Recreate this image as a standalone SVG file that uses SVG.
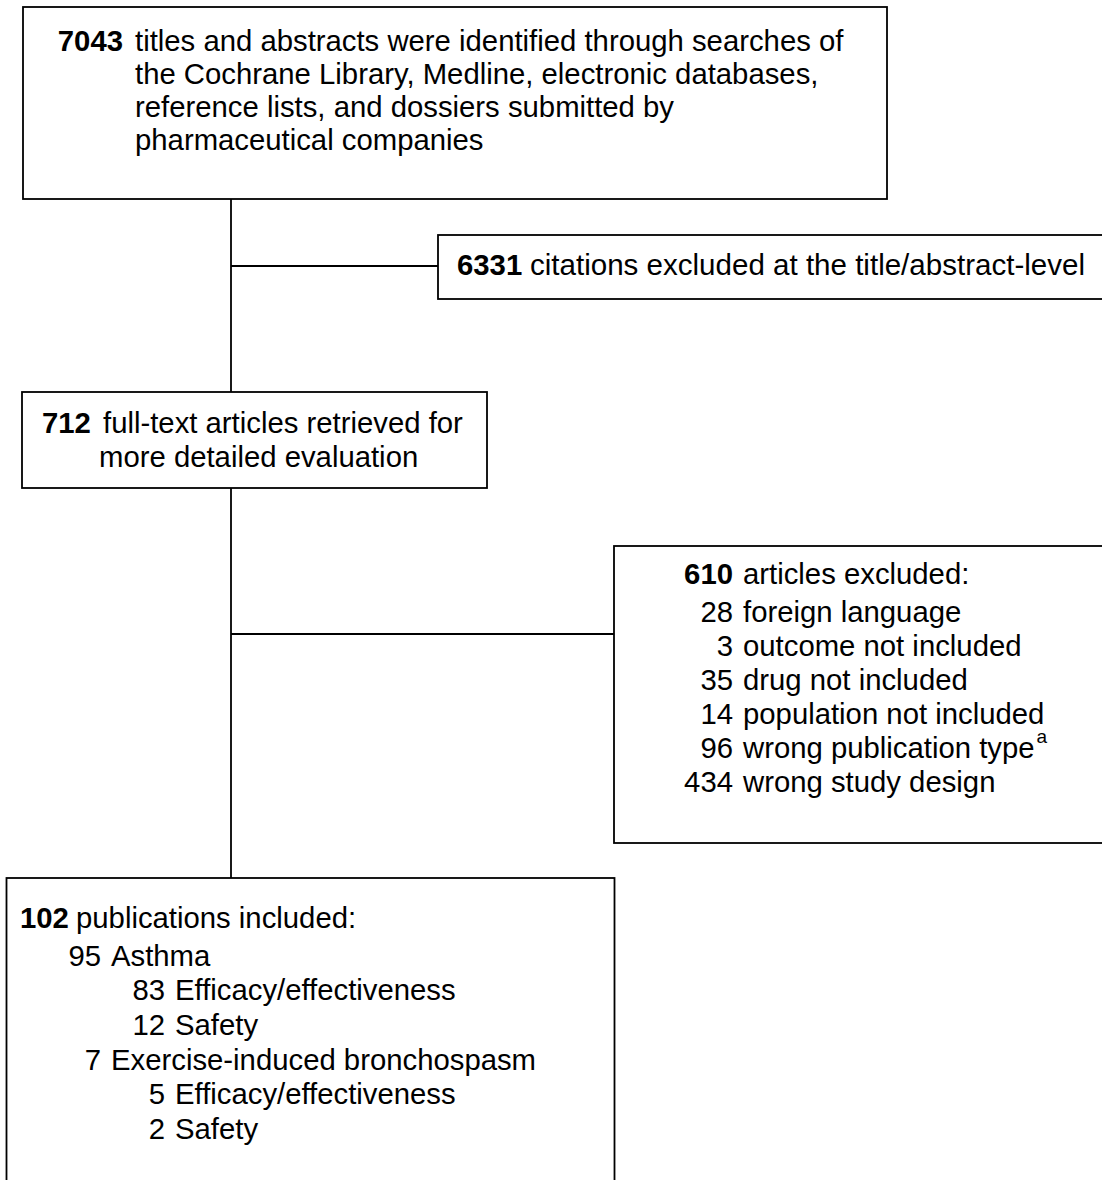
<svg xmlns="http://www.w3.org/2000/svg" width="1102" height="1180" viewBox="0 0 1102 1180">
<style>
.box{fill:#fff;stroke:#000;stroke-width:1.8}
.ln{stroke:#000;stroke-width:1.8;fill:none}
text{font-family:"Liberation Sans",Arial,sans-serif;font-size:29.3px;fill:#000}
.b{font-weight:bold}
.e{text-anchor:end}
.sup{font-size:19px}
</style>
<rect width="1102" height="1180" fill="#fff"/>
<g id="connectors">
<line class="ln" x1="231" y1="199" x2="231" y2="392"/>
<line class="ln" x1="231" y1="266" x2="438" y2="266"/>
<line class="ln" x1="231" y1="488" x2="231" y2="878"/>
<line class="ln" x1="231" y1="634" x2="614" y2="634"/>
</g>
<g id="node-identified">
<rect class="box" x="23" y="7" width="864" height="192"/>
<text class="b e" x="123" y="51">7043</text>
<text x="135" y="51">titles and abstracts were identified through searches of</text>
<text x="135" y="84">the Cochrane Library, Medline, electronic databases,</text>
<text x="135" y="117">reference lists, and dossiers submitted by</text>
<text x="135" y="150">pharmaceutical companies</text>
</g>
<g id="node-excluded-title">
<rect class="box" x="438" y="235" width="680" height="64"/>
<text class="b" x="457" y="275">6331</text>
<text x="530" y="275" textLength="555" lengthAdjust="spacingAndGlyphs">citations excluded at the title/abstract-level</text>
</g>
<g id="node-fulltext">
<rect class="box" x="22" y="392" width="465" height="96"/>
<text class="b" x="42" y="433">712</text>
<text x="103" y="433">full-text articles retrieved for</text>
<text x="99" y="467">more detailed evaluation</text>
</g>
<g id="node-excluded-articles">
<rect class="box" x="614" y="546" width="500" height="297"/>
<text class="b e" x="733" y="584">610</text>
<text x="743" y="584">articles excluded:</text>
<text class="e" x="733" y="622">28</text>
<text x="743" y="622">foreign language</text>
<text class="e" x="733" y="656">3</text>
<text x="743" y="656">outcome not included</text>
<text class="e" x="733" y="690">35</text>
<text x="743" y="690">drug not included</text>
<text class="e" x="733" y="724">14</text>
<text x="743" y="724">population not included</text>
<text class="e" x="733" y="758">96</text>
<text x="743" y="758">wrong publication type<tspan class="sup" dx="2" dy="-15">a</tspan></text>
<text class="e" x="733" y="792">434</text>
<text x="743" y="792">wrong study design</text>
</g>
<g id="node-included">
<rect class="box" x="6.5" y="878" width="608" height="320"/>
<text class="b" x="20" y="928">102</text>
<text x="76" y="928">publications included:</text>
<text class="e" x="101" y="966">95</text>
<text x="111" y="966">Asthma</text>
<text class="e" x="165" y="1000">83</text>
<text x="175" y="1000">Efficacy/effectiveness</text>
<text class="e" x="165" y="1035">12</text>
<text x="175" y="1035">Safety</text>
<text class="e" x="101" y="1070">7</text>
<text x="111" y="1070">Exercise-induced bronchospasm</text>
<text class="e" x="165" y="1104">5</text>
<text x="175" y="1104">Efficacy/effectiveness</text>
<text class="e" x="165" y="1139">2</text>
<text x="175" y="1139">Safety</text>
</g>
</svg>
